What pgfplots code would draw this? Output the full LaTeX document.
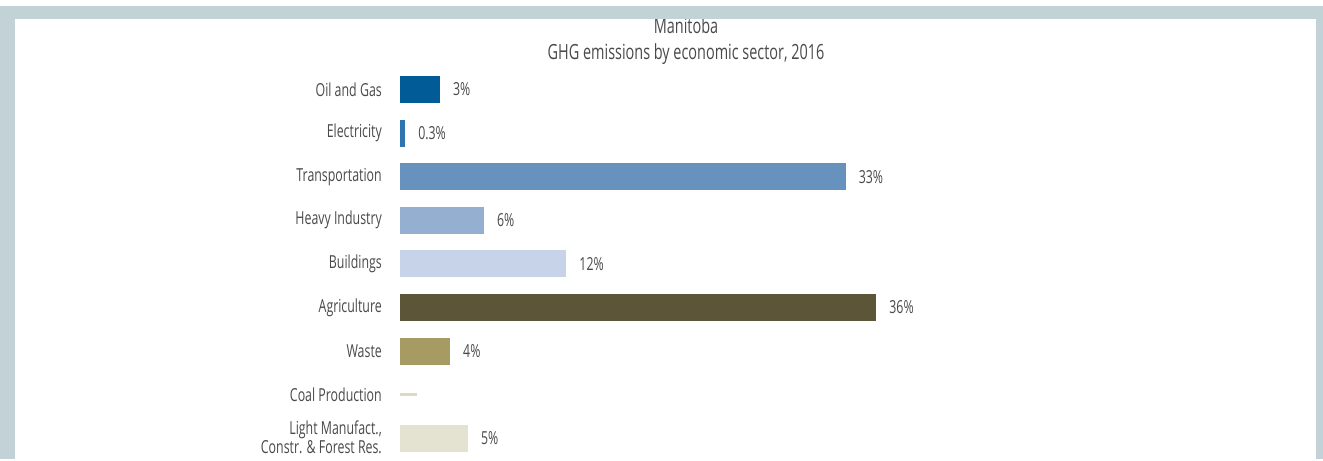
\documentclass[border=0pt]{standalone}
\usepackage{fontspec}
\setmainfont{Open Sans}[FakeStretch=0.69]
\usepackage{pgfplots}
\pgfplotsset{compat=1.18}
\definecolor{framec}{HTML}{C3D2D6}
\definecolor{labelc}{HTML}{4A4A4A}
\definecolor{cOil}{HTML}{005B96}
\definecolor{cEle}{HTML}{2E75B0}
\definecolor{cTra}{HTML}{6792BE}
\definecolor{cHea}{HTML}{94AFCF}
\definecolor{cBui}{HTML}{C7D3E8}
\definecolor{cAgr}{HTML}{5C5538}
\definecolor{cWas}{HTML}{A69B63}
\definecolor{cCoa}{HTML}{DCD9C4}
\definecolor{cLig}{HTML}{E4E2D0}
\newcommand\lmlabel{Light Manufact.,\\Constr. \& Forest Res.}
\begin{document}
\begin{tikzpicture}[x=1bp,y=1bp]
\fill[white] (0,0) rectangle (1323,459);
\node[anchor=base, text=labelc, font=\fontsize{21}{24}\selectfont] at (686,425) {Manitoba};
\node[anchor=base, text=labelc, font=\fontsize{21}{24}\selectfont] at (686,399) {GHG emissions by economic sector, 2016};
\begin{axis}[at={(400bp,391.3bp)}, anchor=north west, scale only axis,
  width=532bp, height=392.4bp,
  xmin=0, xmax=40, ymin=-0.5, ymax=8.5, y dir=reverse,
  xbar, bar width=27bp,
  axis line style={draw=none}, xtick=\empty,
  ytick={0,...,7},
  yticklabels={Oil and Gas, Electricity, Transportation, Heavy Industry, Buildings, Agriculture, Waste, Coal Production},
  extra y ticks={8},
  extra y tick labels={\lmlabel},
  extra y tick style={yticklabel style={yshift=1bp}},
  major tick length=0pt,
  yticklabel style={font=\fontsize{18}{20}\selectfont, text=labelc, align=right, inner sep=0pt, xshift=-18bp},
  clip=false,
  nodes near coords style={anchor=west, inner sep=0pt, xshift=13bp, font=\fontsize{18}{22}\selectfont, text=labelc},
]
\addplot[fill=cOil, draw=none, bar shift=0pt, nodes near coords={3\%}] coordinates {(3.0,0)};
\addplot[fill=cEle, draw=none, bar shift=0pt, nodes near coords={0.3\%}] coordinates {(0.38,1)};
\addplot[fill=cTra, draw=none, bar shift=0pt, nodes near coords={33\%}] coordinates {(33.5,2)};
\addplot[fill=cHea, draw=none, bar shift=0pt, nodes near coords={6\%}] coordinates {(6.3,3)};
\addplot[fill=cBui, draw=none, bar shift=0pt, nodes near coords={12\%}] coordinates {(12.5,4)};
\addplot[fill=cAgr, draw=none, bar shift=0pt, nodes near coords={36\%}] coordinates {(35.8,5)};
\addplot[fill=cWas, draw=none, bar shift=0pt, nodes near coords={4\%}] coordinates {(3.76,6)};
\addplot[fill=cCoa, draw=none, bar shift=0pt, bar width=3bp] coordinates {(1.25,7)};
\addplot[fill=cLig, draw=none, bar shift=0pt, nodes near coords={5\%}] coordinates {(5.1,8)};
\end{axis}
\fill[framec] (0,0) rectangle (15,453);
\fill[framec] (1316,0) rectangle (1323,453);
\fill[framec] (0,440) rectangle (1323,453);
\end{tikzpicture}
\end{document}
